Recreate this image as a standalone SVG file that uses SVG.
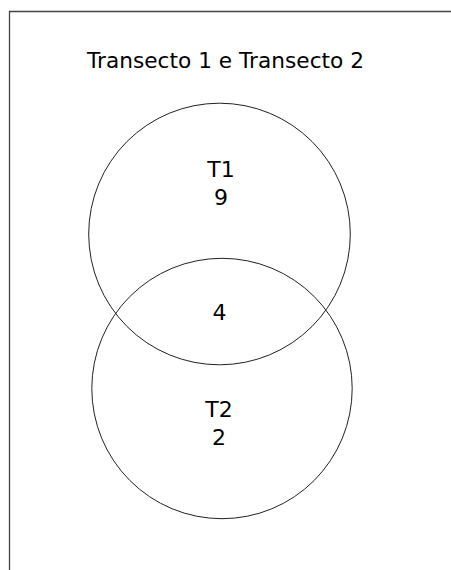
<svg xmlns="http://www.w3.org/2000/svg" width="451" height="570" viewBox="0 0 451 570">
<style>
.bg{fill:#ffffff}
.frame{fill:none;stroke:#444;stroke-width:1.3}
.set{fill:none;stroke:#222;stroke-width:1}
.t{font-family:"DejaVu Sans",Verdana,sans-serif;fill:#000;text-anchor:middle}
.title{font-size:21.5px}
.lbl{font-size:22px}
</style>
<rect class="bg" x="0" y="0" width="451" height="570"/>
<path class="frame" d="M9.5,570 V11.5 H451"/>
<g id="title"><text class="t title" x="225.5" y="68" textLength="277" lengthAdjust="spacingAndGlyphs">Transecto 1 e Transecto 2</text></g>
<g id="T1">
<circle class="set" cx="219.5" cy="234" r="130.8"/>
<text class="t lbl" x="221" y="177">T1</text>
<text class="t lbl" x="221" y="205">9</text>
</g>
<g id="T2">
<circle class="set" cx="222" cy="388.5" r="130.2"/>
<text class="t lbl" x="219" y="417">T2</text>
<text class="t lbl" x="219" y="445">2</text>
</g>
<g id="intersection"><text class="t lbl" x="219.5" y="320">4</text></g>
<g id="connectors"></g>
</svg>
